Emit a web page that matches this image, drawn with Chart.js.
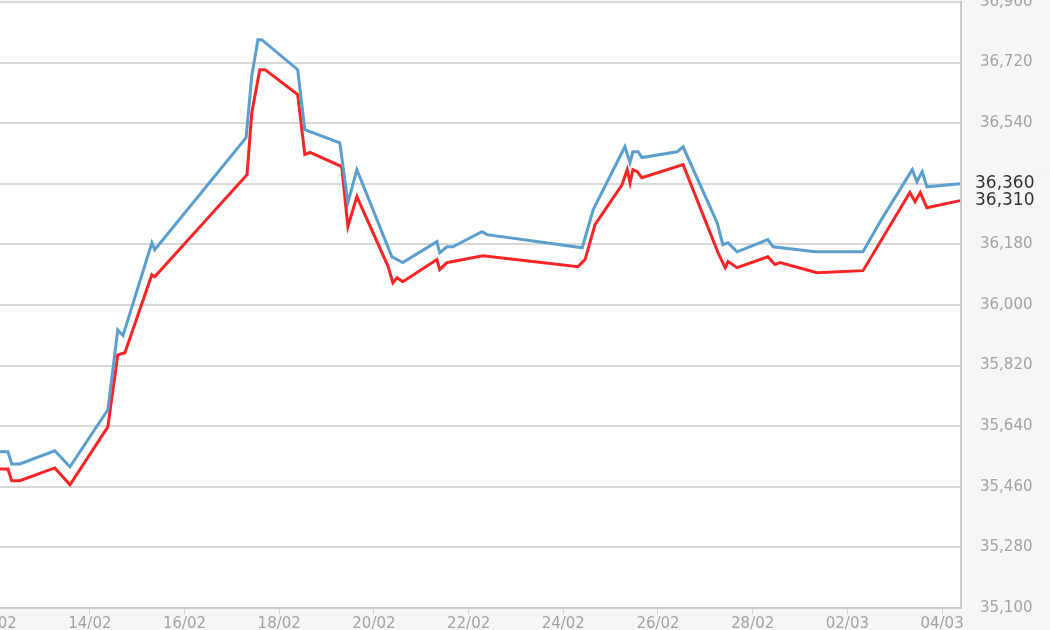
<!DOCTYPE html>
<html>
<head>
<meta charset="utf-8">
<script src="https://cdn.jsdelivr.net/npm/chart.js@4.4.1/dist/chart.umd.min.js"></script>
<style>
    html, body { margin: 0; padding: 0; background: #f6f6f6; overflow: hidden; }
    #wrap { position: absolute; left: -100px; top: 0; width: 1150px; height: 630px; }
</style>
</head>
<body>
<div id="wrap"><canvas id="chart" width="1150" height="630"></canvas></div>
<script>
// Days counted from 1 Feb (29 = 01/03, 30 = 02/03 ...)
const blueDays = [12.10, 12.27, 12.35, 12.52, 13.26, 13.58, 14.38, 14.59, 14.70, 15.31, 15.37,
    17.30, 17.42, 17.55, 17.63, 18.39, 18.54, 19.28, 19.45, 19.64, 20.38, 20.61,
    21.33, 21.39, 21.54, 21.67, 22.28, 22.39, 24.40, 24.63, 25.30, 25.41, 25.47,
    25.58, 25.66, 26.40, 26.53, 27.25, 27.37, 27.48, 27.67, 28.32, 28.43, 29.32,
    30.33, 30.69, 31.37, 31.47, 31.58, 31.68, 32.38];
const blueValues = [35564, 35564, 35528, 35528, 35567, 35519, 35689, 35926, 35909, 36185, 36164,
    36497, 36680, 36788, 36788, 36699, 36521, 36482, 36304, 36402, 36143, 36126,
    36188, 36155, 36173, 36173, 36218, 36209, 36170, 36283, 36470, 36423, 36455,
    36455, 36438, 36455, 36470, 36244, 36179, 36185, 36158, 36194, 36173, 36158,
    36158, 36247, 36402, 36366, 36396, 36351, 36360];

const redDays = [12.10, 12.27, 12.35, 12.52, 13.26, 13.58, 14.38, 14.59, 14.74, 15.31, 15.37,
    17.32, 17.42, 17.59, 17.70, 18.39, 18.54, 18.65, 19.32, 19.45, 19.64, 20.30,
    20.40, 20.49, 20.61, 21.33, 21.39, 21.54, 21.67, 22.30, 24.31, 24.46, 24.67,
    25.24, 25.35, 25.41, 25.47, 25.56, 25.66, 26.53, 27.27, 27.42, 27.48, 27.67,
    28.32, 28.47, 28.58, 29.36, 30.33, 31.32, 31.43, 31.54, 31.68, 32.38];
const redValues = [35513, 35513, 35478, 35478, 35516, 35466, 35638, 35852, 35858, 36090, 36084,
    36387, 36571, 36699, 36699, 36625, 36447, 36453, 36411, 36233, 36322, 36114,
    36066, 36081, 36069, 36135, 36105, 36126, 36129, 36146, 36114, 36135, 36239,
    36357, 36402, 36363, 36402, 36396, 36378, 36417, 36155, 36111, 36129, 36111,
    36143, 36120, 36126, 36096, 36102, 36334, 36307, 36334, 36289, 36310];

const xTickDays = [12, 14, 16, 18, 20, 22, 24, 26, 28, 30, 32];
const xTickLabels = ['12/02', '14/02', '16/02', '18/02', '20/02', '22/02', '24/02', '26/02', '28/02', '02/03', '04/03'];
const yTickValues = [35100, 35280, 35460, 35640, 35820, 36000, 36180, 36360, 36540, 36720, 36900];

const BLUE = '#5a9fcd';
const RED = '#fb2424';
const BG = '#f6f6f6';
const FONT = '"DejaVu Sans", Verdana, sans-serif';

const toPoints = (xs, ys) => xs.map((x, i) => ({ x: x, y: ys[i] }));
const fmt = (v) => Math.round(v).toLocaleString('en-US');

// white plot background, page stays light grey
const plotBackground = {
    id: 'plotBackground',
    beforeDraw(chart) {
        const { ctx, chartArea: a } = chart;
        ctx.save();
        ctx.fillStyle = '#ffffff';
        ctx.fillRect(a.left, a.top, a.right - a.left, a.bottom - a.top);
        ctx.restore();
    }
};

// last value of each series written on the right axis
const lastValueLabels = {
    id: 'lastValueLabels',
    afterDraw(chart) {
        const { ctx, scales } = chart;
        const y = scales.y;
        const x0 = chart.chartArea.right + 14;
        ctx.save();
        ctx.font = '17px ' + FONT;
        ctx.textBaseline = 'middle';
        chart.data.datasets.forEach(ds => {
            const py = y.getPixelForValue(ds.data[ds.data.length - 1].y);
            ctx.fillStyle = BG;
            ctx.fillRect(x0 - 2, py - 8, 80, 16);
        });
        chart.data.datasets.forEach(ds => {
            const last = ds.data[ds.data.length - 1].y;
            const py = y.getPixelForValue(last);
            ctx.fillStyle = '#333333';
            ctx.fillText(fmt(last), x0, py);
        });
        ctx.restore();
    }
};

new Chart(document.getElementById('chart'), {
    type: 'line',
    data: {
        datasets: [
            {
                label: 'blue',
                data: toPoints(blueDays, blueValues),
                borderColor: BLUE,
                borderWidth: 3,
                pointRadius: 0,
                tension: 0,
                fill: false
            },
            {
                label: 'red',
                data: toPoints(redDays, redValues),
                borderColor: RED,
                borderWidth: 3,
                pointRadius: 0,
                tension: 0,
                fill: false
            }
        ]
    },
    options: {
        responsive: false,
        animation: false,
        events: [],
        layout: { autoPadding: false, padding: { top: 2, left: 0, right: 0, bottom: 0 } },
        plugins: {
            legend: { display: false },
            tooltip: { enabled: false }
        },
        scales: {
            x: {
                type: 'linear',
                min: 9.99,
                max: 32.4,
                afterBuildTicks: (scale) => { scale.ticks = xTickDays.map(v => ({ value: v })); },
                afterFit: (scale) => {
                    scale.height = 22;
                    scale.paddingLeft = 0;
                    scale.paddingRight = 0;
                },
                grid: { drawOnChartArea: false, drawTicks: true, tickLength: 6, color: '#c8d4e0' },
                border: { display: true, color: '#cccccc', width: 2 },
                ticks: {
                    padding: 1,
                    color: '#a3a3a3',
                    font: { family: FONT, size: 15 },
                    maxRotation: 0,
                    autoSkip: false,
                    callback: (v) => xTickLabels[xTickDays.indexOf(v)]
                }
            },
            y: {
                position: 'right',
                min: 35100,
                max: 36900,
                afterBuildTicks: (scale) => { scale.ticks = yTickValues.map(v => ({ value: v })); },
                afterFit: (scale) => {
                    scale.width = 89;
                    scale.paddingTop = 0;
                    scale.paddingBottom = 0;
                },
                grid: { color: '#d9d9d9', lineWidth: 2, drawTicks: false },
                border: { display: true, color: '#cccccc', width: 2 },
                ticks: {
                    padding: 19,
                    color: '#a3a3a3',
                    font: { family: FONT, size: 15 },
                    callback: (v) => fmt(v)
                }
            }
        }
    },
    plugins: [plotBackground, lastValueLabels]
});
</script>
</body>
</html>
